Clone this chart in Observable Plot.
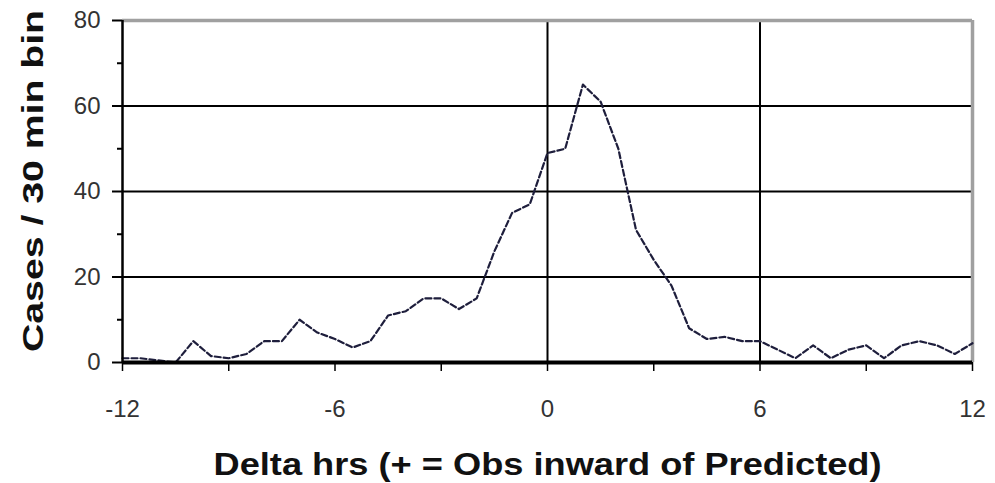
<!DOCTYPE html>
<html><head><meta charset="utf-8">
<script src="https://cdn.jsdelivr.net/npm/d3@7"></script>
<script src="https://cdn.jsdelivr.net/npm/@observablehq/plot@0.6"></script>
<style>body{margin:0;background:#fff}</style>
</head><body><div id="chart"></div>
<script>
const hours = [-12,-11.5,-11,-10.5,-10,-9.5,-9,-8.5,-8,-7.5,-7,-6.5,-6,-5.5,-5,-4.5,-4,-3.5,-3,-2.5,-2,-1.5,-1,-0.5,0,0.5,1,1.5,2,2.5,3,3.5,4,4.5,5,5.5,6,6.5,7,7.5,8,8.5,9,9.5,10,10.5,11,11.5,12];
const cases = [1,1,0.5,0,5,1.5,1,2,5,5,10,7,5.5,3.5,5,11,12,15,15,12.5,15,26,35,37,49,50,65,61,50,31,24,18,8,5.5,6,5,5,3,1,4,1,3,4,1,4,5,4,2,4.5];
const xMajorTicks = [-12,-6,0,6,12];
const xMinorTicks = [-9,-3,3,9];
const yMajorTicks = [0,20,40,60,80];
const yMinorTicks = [10,30,50,70];
const hGrid = [20,40,60];
const vGrid = [0,6];
const xTitle = "Delta hrs (+ = Obs inward of Predicted)";
const yTitle = "Cases / 30 min bin";

const data = hours.map((h, i) => ({h, c: cases[i]}));

const plot = Plot.plot({
  width: 995, height: 483,
  marginLeft: 122, marginRight: 23, marginTop: 20, marginBottom: 121,
  x: {domain: [-12, 12]},
  y: {domain: [0, 80]},
  style: {fontFamily: "'Liberation Sans', Arial, sans-serif", background: "#fff", color: "#000"},
  marks: [
    Plot.ruleY(hGrid, {stroke: "#000", strokeWidth: 2}),
    Plot.ruleX(vGrid, {stroke: "#000", strokeWidth: 2}),
    Plot.ruleY([80], {stroke: "#a0a0a0", strokeWidth: 3.5}),
    Plot.ruleX([12], {stroke: "#a0a0a0", strokeWidth: 3.5}),
    Plot.line(data, {x: "h", y: "c", stroke: "#1e1e3c", strokeWidth: 2.2, strokeDasharray: "6,3"}),
    Plot.ruleX([-12], {stroke: "#000", strokeWidth: 2.5}),
    Plot.ruleY([0], {stroke: "#000", strokeWidth: 4}),
    Plot.axisY({ticks: yMajorTicks, tickSize: 10, tickPadding: 12, strokeWidth: 2, label: null, tickFormat: d => String(d)}),
    Plot.axisY({ticks: yMinorTicks, tickSize: 5, strokeWidth: 2, tickFormat: () => "", label: null}),
    Plot.axisX({ticks: xMajorTicks, tickSize: 9, tickPadding: 28, strokeWidth: 1.5, label: null, tickFormat: d => String(d)}),
    Plot.axisX({ticks: xMinorTicks, tickSize: 9, strokeWidth: 1.5, tickFormat: () => "", label: null}),
    Plot.text([xTitle], {frameAnchor: "bottom", lineAnchor: "bottom", dy: 112, fontSize: 31, fontWeight: "bold", fill: "#111"})
  ]
});

const svg = d3.select(plot);
svg.selectAll('g[aria-label="y-axis tick label"] text').style("font-size", "24px").attr("fill", "#333");
svg.selectAll('g[aria-label="x-axis tick label"] text').style("font-size", "24px").style("font-family", "'Liberation Sans Narrow', 'Arial Narrow', 'Liberation Sans', sans-serif").attr("fill", "#333");
svg.selectAll("text").filter(function(){ return this.textContent === xTitle; }).attr("textLength", 668).attr("lengthAdjust", "spacingAndGlyphs");
svg.append("text")
  .attr("transform", "translate(43,181) rotate(-90)")
  .attr("text-anchor", "middle")
  .attr("font-size", 30)
  .attr("font-weight", "bold")
  .attr("fill", "#111")
  .attr("textLength", 342)
  .attr("lengthAdjust", "spacingAndGlyphs")
  .text(yTitle);
document.getElementById("chart").appendChild(plot);
</script>
</body></html>
